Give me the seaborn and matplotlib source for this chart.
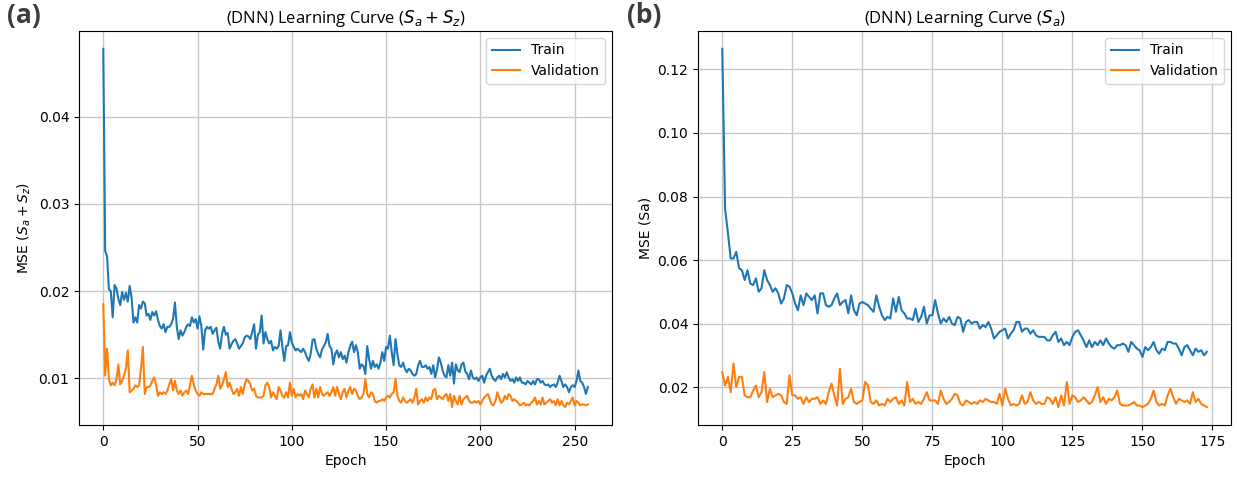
import pandas as pd
import seaborn as sns
import matplotlib.pyplot as plt

# (a) Sa + Sz model, 258 epochs
train_a = [
    .0478, .0246, .0240, .0202, .0200, .0170, .0207, .0203, .0191, .0184,
    .0199, .0190, .0198, .0188, .0206, .0193, .0164, .0170, .0164, .0184,
    .0180, .0188, .0186, .0172, .0174, .0167, .0176, .0172, .0177, .0167,
    .0160, .0157, .0162, .0153, .0159, .0159, .0162, .0168, .0187, .0159,
    .0145, .0155, .0149, .0153, .0159, .0162, .0160, .0170, .0164, .0168,
    .0157, .0171, .0160, .0133, .0155, .0159, .0157, .0159, .0151, .0155,
    .0158, .0142, .0134, .0151, .0159, .0150, .0152, .0134, .0139, .0143,
    .0145, .0140, .0134, .0137, .0140, .0147, .0149, .0148, .0145, .0153,
    .0162, .0134, .0150, .0153, .0172, .0140, .0153, .0145, .0140, .0143,
    .0132, .0136, .0134, .0137, .0155, .0136, .0120, .0137, .0138, .0153,
    .0141, .0136, .0132, .0134, .0132, .0130, .0134, .0130, .0124, .0120,
    .0128, .0144, .0145, .0134, .0128, .0124, .0133, .0137, .0141, .0151,
    .0137, .0134, .0116, .0128, .0132, .0124, .0130, .0122, .0126, .0118,
    .0130, .0137, .0142, .0130, .0138, .0130, .0111, .0116, .0114, .0105,
    .0137, .0122, .0111, .0120, .0113, .0116, .0111, .0118, .0130, .0120,
    .0136, .0134, .0149, .0130, .0115, .0145, .0128, .0115, .0113, .0118,
    .0111, .0107, .0111, .0109, .0105, .0103, .0105, .0115, .0120, .0113,
    .0113, .0115, .0111, .0113, .0105, .0115, .0101, .0110, .0124, .0118,
    .0109, .0103, .0101, .0115, .0103, .0118, .0094, .0116, .0109, .0107,
    .0116, .0118, .0108, .0105, .0099, .0109, .0101, .0099, .0101, .0097,
    .0101, .0103, .0095, .0103, .0107, .0111, .0103, .0099, .0097, .0101,
    .0103, .0099, .0105, .0101, .0107, .0101, .0097, .0099, .0095, .0101,
    .0097, .0101, .0095, .0095, .0093, .0097, .0095, .0093, .0097, .0093,
    .0099, .0099, .0095, .0097, .0093, .0092, .0093, .0090, .0092, .0093,
    .0090, .0095, .0103, .0097, .0090, .0093, .0090, .0084, .0090, .0092,
    .0090, .0097, .0109, .0097, .0095, .0090, .0082, .0090,
]
val_a = [
    .0185, .0103, .0134, .0099, .0092, .0095, .0092, .0099, .0116, .0093,
    .0097, .0103, .0111, .0132, .0084, .0086, .0088, .0092, .0090, .0092,
    .0111, .0136, .0082, .0090, .0090, .0092, .0097, .0101, .0093, .0080,
    .0084, .0082, .0084, .0082, .0086, .0093, .0099, .0086, .0097, .0086,
    .0082, .0086, .0080, .0084, .0086, .0082, .0092, .0103, .0093, .0086,
    .0082, .0080, .0084, .0082, .0082, .0082, .0082, .0082, .0082, .0088,
    .0093, .0103, .0088, .0092, .0099, .0107, .0090, .0095, .0088, .0082,
    .0084, .0088, .0080, .0090, .0082, .0093, .0099, .0097, .0093, .0086,
    .0088, .0080, .0078, .0078, .0078, .0080, .0092, .0095, .0090, .0078,
    .0084, .0080, .0076, .0090, .0086, .0080, .0078, .0084, .0078, .0095,
    .0080, .0088, .0078, .0082, .0080, .0082, .0076, .0086, .0082, .0078,
    .0088, .0093, .0078, .0088, .0078, .0090, .0082, .0080, .0082, .0084,
    .0080, .0084, .0090, .0080, .0090, .0082, .0076, .0084, .0088, .0078,
    .0086, .0090, .0082, .0088, .0086, .0080, .0076, .0078, .0082, .0099,
    .0082, .0078, .0084, .0082, .0074, .0072, .0074, .0074, .0076, .0074,
    .0078, .0080, .0078, .0082, .0084, .0099, .0080, .0074, .0072, .0078,
    .0074, .0072, .0074, .0076, .0072, .0078, .0088, .0070, .0074, .0076,
    .0072, .0078, .0074, .0078, .0076, .0086, .0088, .0076, .0080, .0078,
    .0076, .0080, .0082, .0074, .0082, .0067, .0080, .0074, .0070, .0080,
    .0070, .0076, .0078, .0080, .0074, .0072, .0072, .0074, .0072, .0074,
    .0070, .0074, .0078, .0080, .0082, .0076, .0070, .0069, .0074, .0084,
    .0078, .0072, .0074, .0080, .0076, .0082, .0080, .0074, .0076, .0074,
    .0072, .0069, .0070, .0072, .0069, .0070, .0069, .0072, .0074, .0078,
    .0070, .0074, .0070, .0078, .0070, .0072, .0074, .0076, .0072, .0074,
    .0069, .0076, .0069, .0074, .0069, .0067, .0072, .0070, .0074, .0078,
    .0069, .0074, .0072, .0069, .0070, .0070, .0069, .0070,
]

# (b) Sa model, 174 epochs
train_b = [
    .1265, .0761, .0687, .0605, .0605, .0626, .0574, .0568, .0537, .0568,
    .0526, .0521, .0542, .0500, .0511, .0568, .0537, .0521, .0500, .0511,
    .0495, .0463, .0479, .0521, .0516, .0495, .0463, .0442, .0489, .0458,
    .0495, .0484, .0474, .0489, .0432, .0495, .0495, .0458, .0453, .0458,
    .0479, .0495, .0458, .0468, .0474, .0432, .0489, .0442, .0426, .0463,
    .0468, .0463, .0458, .0447, .0437, .0489, .0453, .0426, .0411, .0421,
    .0416, .0479, .0437, .0484, .0442, .0432, .0416, .0416, .0411, .0447,
    .0405, .0421, .0453, .0400, .0426, .0426, .0474, .0432, .0400, .0416,
    .0405, .0421, .0400, .0395, .0421, .0416, .0374, .0405, .0411, .0400,
    .0405, .0405, .0384, .0395, .0389, .0405, .0384, .0353, .0363, .0374,
    .0379, .0384, .0353, .0368, .0379, .0405, .0405, .0374, .0384, .0384,
    .0368, .0379, .0363, .0358, .0358, .0358, .0347, .0347, .0363, .0374,
    .0342, .0353, .0332, .0342, .0332, .0358, .0374, .0379, .0363, .0347,
    .0326, .0347, .0326, .0342, .0332, .0347, .0332, .0353, .0337, .0326,
    .0321, .0332, .0332, .0337, .0332, .0311, .0342, .0332, .0321, .0316,
    .0295, .0326, .0316, .0326, .0342, .0316, .0305, .0321, .0316, .0342,
    .0342, .0337, .0337, .0321, .0300, .0326, .0332, .0316, .0300, .0321,
    .0311, .0316, .0300, .0311,
]
val_b = [
    .0247, .0205, .0232, .0184, .0274, .0200, .0232, .0232, .0174, .0168,
    .0168, .0189, .0205, .0168, .0184, .0247, .0153, .0195, .0168, .0174,
    .0179, .0174, .0153, .0147, .0237, .0174, .0174, .0163, .0168, .0147,
    .0168, .0153, .0163, .0163, .0168, .0147, .0158, .0147, .0184, .0211,
    .0174, .0142, .0258, .0147, .0163, .0168, .0195, .0153, .0147, .0153,
    .0158, .0216, .0205, .0153, .0147, .0158, .0142, .0147, .0142, .0163,
    .0153, .0163, .0168, .0147, .0158, .0142, .0216, .0153, .0163, .0147,
    .0153, .0147, .0163, .0184, .0158, .0158, .0158, .0147, .0189, .0163,
    .0147, .0153, .0163, .0179, .0174, .0147, .0142, .0158, .0153, .0147,
    .0153, .0147, .0158, .0153, .0163, .0158, .0153, .0153, .0147, .0179,
    .0142, .0195, .0163, .0142, .0147, .0142, .0147, .0174, .0147, .0153,
    .0184, .0158, .0147, .0153, .0147, .0147, .0168, .0163, .0147, .0168,
    .0137, .0174, .0142, .0216, .0147, .0174, .0168, .0153, .0158, .0168,
    .0158, .0147, .0153, .0174, .0200, .0153, .0168, .0147, .0163, .0158,
    .0168, .0189, .0147, .0142, .0142, .0142, .0147, .0153, .0142, .0142,
    .0137, .0142, .0147, .0163, .0189, .0153, .0142, .0147, .0142, .0174,
    .0195, .0168, .0147, .0163, .0158, .0153, .0158, .0147, .0184, .0153,
    .0163, .0147, .0142, .0137,
]

series_names = ['Train', 'Validation']
titles = [r'(DNN) Learning Curve ($S_a + S_z$)', r'(DNN) Learning Curve ($S_a$)']
ylabels = [r'MSE ($S_a + S_z$)', 'MSE (Sa)']
panel_tags = ['(a)', '(b)']
colors = ['#1f77b4', '#ff7f0e']


def long_frame(train, val):
    rows = []
    for name, vals in zip(series_names, [train, val]):
        rows.append(pd.DataFrame({'Epoch': range(len(vals)), 'MSE': vals, 'series': name}))
    return pd.concat(rows, ignore_index=True)


fig = plt.figure(figsize=(12.39, 4.8), dpi=100)
ax_a = fig.add_axes([0.0638, 0.1146, 0.4302, 0.821])
ax_b = fig.add_axes([0.5634, 0.1146, 0.4302, 0.821])

panels = [(ax_a, train_a, val_a), (ax_b, train_b, val_b)]
for i, (ax, tr, va) in enumerate(panels):
    df = long_frame(tr, va)
    sns.lineplot(data=df, x='Epoch', y='MSE', hue='series', palette=colors,
                 linewidth=1.5, ax=ax)
    ax.grid(True, color='#c8c8c8', linewidth=1.0)
    ax.set_axisbelow(True)
    ax.set_title(titles[i], family=['Open Sans', 'DejaVu Sans'], fontsize=12)
    ax.set_xlabel('Epoch')
    ax.set_ylabel(ylabels[i])
    ax.legend(loc='upper right')

ax_b.set_xticks([0, 25, 50, 75, 100, 125, 150, 175])

fig.text(0.006, 0.995, panel_tags[0], va='top', ha='left', fontsize=19,
         fontweight='bold', color='#3c3c3c', family=['Open Sans', 'DejaVu Sans'])
fig.text(0.506, 0.995, panel_tags[1], va='top', ha='left', fontsize=19,
         fontweight='bold', color='#3c3c3c', family=['Open Sans', 'DejaVu Sans'])

plt.savefig('out.png', dpi=100)
